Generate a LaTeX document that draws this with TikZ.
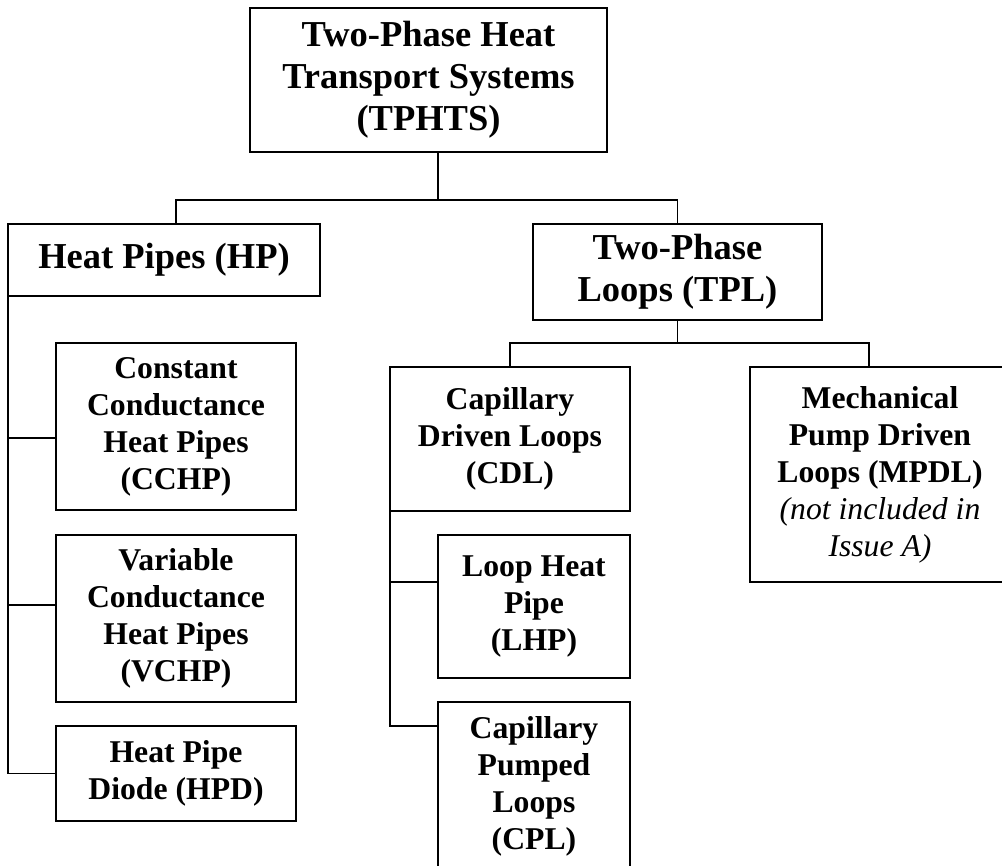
\documentclass[tikz,border=0pt]{standalone}
\usepackage{fontspec}
\setmainfont{Liberation Serif}

\begin{document}
\begin{tikzpicture}[
  x=1pt, y=-1pt,
  every node/.style={inner sep=0pt, outer sep=0pt},
  box/.style 2 args={draw, line width=1.3pt, align=center,
    minimum width=#1, minimum height=#2},
  bigtxt/.style={font=\fontsize{36.5}{42}\selectfont\bfseries},
  smalltxt/.style={font=\fontsize{31.7}{37}\selectfont\bfseries},
  link/.style={line width=1.3pt}
]
\useasboundingbox (0,0) rectangle (1002,866);
\clip (0,0) rectangle (1002,866);

\node[box={357pt}{144pt}, bigtxt] (tphts) at (428.5,80) {Two-Phase Heat\\Transport Systems\\(TPHTS)};
\node[box={312pt}{72pt}, bigtxt] (hp) at (164,260) {Heat Pipes (HP)};
\node[box={289pt}{96pt}, bigtxt] (tpl) at (677.5,272) {Two-Phase\\Loops (TPL)};

\node[box={240pt}{167pt}, smalltxt] (cchp) at (176,426.5) {Constant\\Conductance\\Heat Pipes\\(CCHP)};
\node[box={240pt}{167pt}, smalltxt] (vchp) at (176,618.5) {Variable\\Conductance\\Heat Pipes\\(VCHP)};
\node[box={240pt}{95pt}, smalltxt] (hpd) at (176,773.5) {Heat Pipe\\Diode (HPD)};

\node[box={240pt}{144pt}, smalltxt] (cdl) at (510,439) {Capillary\\Driven Loops\\(CDL)};
\node[box={192pt}{143pt}, smalltxt] (lhp) at (534,606.5) {Loop Heat\\Pipe\\(LHP)};
\node[box={192pt}{168pt}, smalltxt] (cpl) at (534,786) {Capillary\\Pumped\\Loops\\(CPL)};
\node[box={260pt}{215pt}, smalltxt] (mpdl) at (880,474.5) {Mechanical\\Pump Driven\\Loops (MPDL)\\{\mdseries\itshape (not included in}\\{\mdseries\itshape Issue A)}};

\coordinate (top split) at (438,200);
\draw[link] (tphts.south -| top split) -- (top split);
\draw[link] ([xshift=12pt]hp.north) |- (top split) -| (tpl.north);

\coordinate (tpl split) at ([yshift=-23pt]tpl.south);
\draw[link] (tpl.south) -- (tpl split);
\draw[link] (cdl.north) |- (tpl split) -| ([xshift=-11pt]mpdl.north);

\draw[link] (hp.south west) |- (hpd.west);
\draw[link] ([yshift=-11.5pt]cchp.west) -- ([yshift=-11.5pt]cchp.west -| hp.west);
\draw[link] ([yshift=13.5pt]vchp.west) -- ([yshift=13.5pt]vchp.west -| hp.west);

\draw[link] (cdl.south west) |- ([yshift=60pt]cpl.west);
\draw[link] ([yshift=24.5pt]lhp.west) -- ([yshift=24.5pt]lhp.west -| cdl.west);
\end{tikzpicture}
\end{document}
